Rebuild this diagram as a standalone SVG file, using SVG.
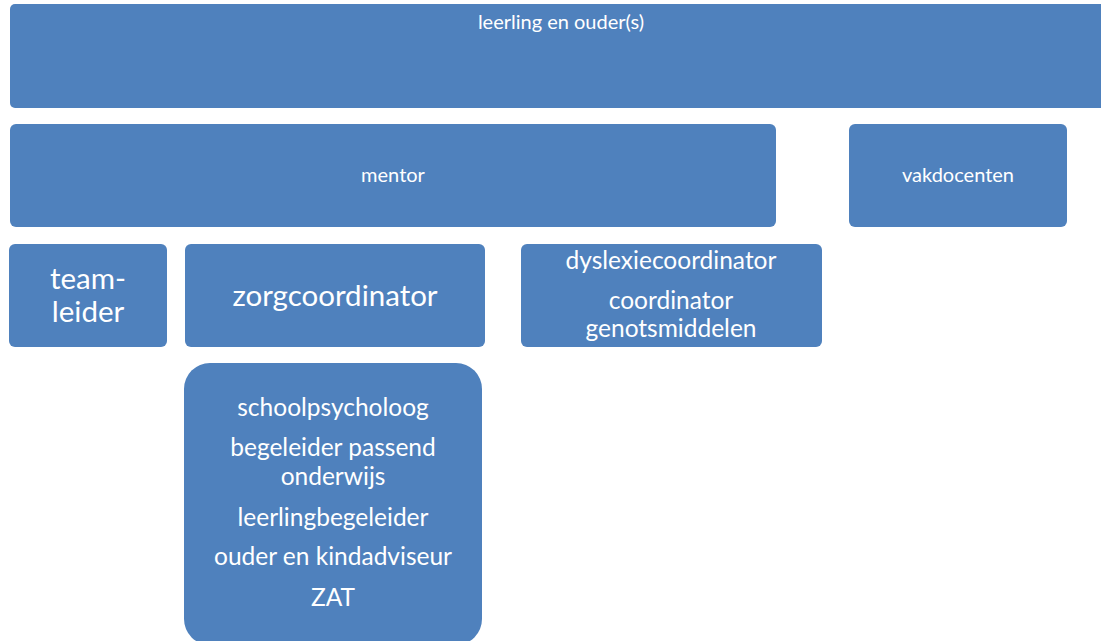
<svg xmlns="http://www.w3.org/2000/svg" width="1101" height="641" viewBox="0 0 1101 641">
<style>
.b{fill:#4F81BD;}
.t{fill:#fff;font-family:Lato,"Open Sans","Liberation Sans",sans-serif;text-anchor:middle;}
.s{font-size:20px;}
.m{font-size:24.5px;}
.l{font-size:29.5px;}
</style>
<rect width="1101" height="641" fill="#fff"/>
<g id="leerling"><rect class="b" x="10" y="4" width="1100" height="104" rx="5"/><text class="t s" x="561" y="29">leerling en ouder(s)</text></g>
<g id="mentor"><rect class="b" x="10" y="124" width="766" height="103" rx="6"/><text class="t s" x="393" y="182">mentor</text></g>
<g id="vakdocenten"><rect class="b" x="849" y="124" width="218" height="103" rx="6"/><text class="t s" x="958" y="182">vakdocenten</text></g>
<g id="teamleider"><rect class="b" x="9" y="244" width="158" height="103" rx="6"/><text class="t l" x="88" y="289">team-</text><text class="t l" x="88" y="322">leider</text></g>
<g id="zorgcoordinator"><rect class="b" x="185" y="244" width="300" height="103" rx="6"/><text class="t l" x="335" y="306">zorgcoordinator</text></g>
<g id="dyslexie"><rect class="b" x="521" y="244" width="301" height="103" rx="6"/><text class="t m" x="671" y="269">dyslexiecoordinator</text><text class="t m" x="671" y="309">coordinator</text><text class="t m" x="671" y="337">genotsmiddelen</text></g>
<g id="zorgteam"><rect class="b" x="184" y="363" width="298" height="282" rx="26"/><text class="t m" x="333" y="416">schoolpsycholoog</text><text class="t m" x="333" y="456">begeleider passend</text><text class="t m" x="333" y="485">onderwijs</text><text class="t m" x="333" y="526">leerlingbegeleider</text><text class="t m" x="333" y="565">ouder en kindadviseur</text><text class="t m" x="333" y="606">ZAT</text></g>
<g id="connectors"></g>
</svg>
